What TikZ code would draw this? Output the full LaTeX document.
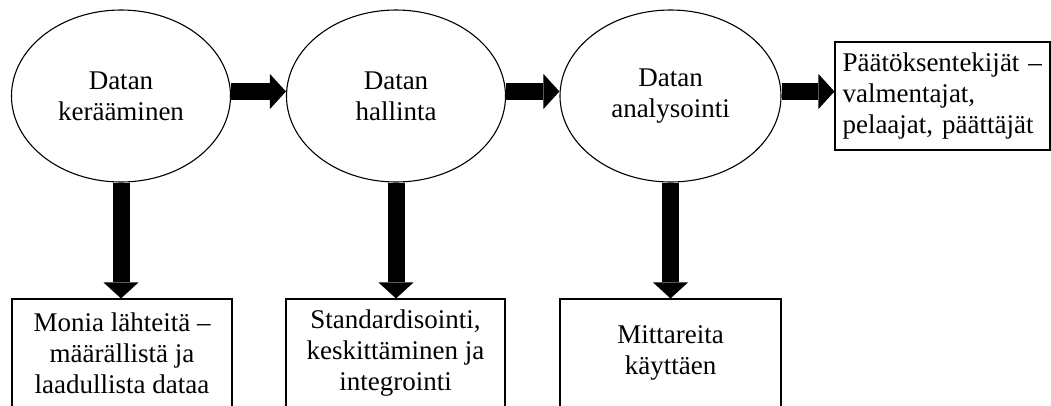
\documentclass[tikz,border=0pt]{standalone}
\usepackage{fontspec}
\setmainfont{Liberation Serif}
\usetikzlibrary{shapes.geometric,arrows.meta}
\begin{document}
\begin{tikzpicture}[x=1pt,y=-1pt,
  txt/.style={font=\fontsize{27}{31}\selectfont, align=center},
  stage/.style={ellipse, draw, line width=1.1pt, minimum width=219pt,
    minimum height=172pt, inner sep=0pt, txt},
  result/.style={rectangle, draw, line width=1.1pt, minimum width=220pt,
    minimum height=108pt, inner sep=0pt, txt},
  flow/.style={line width=17pt,
    -{Triangle[length=16pt,width=35pt,line width=0pt]}}
]
\useasboundingbox (0,0) rectangle (1051,405);

% process stages
\node[stage] (e1) at (121,96) {Datan\\kerääminen};
\node[stage] (e2) at (396,96) {Datan\\hallinta};
\node[stage, minimum width=221pt] (e3) at (670.5,96) {Datan\\analysointi};

% outcome of the chain
\node[result, minimum width=215pt, text width=200pt, align=left]
  (out) at (942.5,96) {Päätöksentekijät –\\valmentajat,\\pelaajat, päättäjät};

% what each stage involves
\node[result] (b1) at (122,353) {Monia lähteitä –\\määrällistä ja\\laadullista dataa};
\node[result, minimum width=219pt] (b2) at (395.5,353) {Standardisointi,\\keskittäminen ja\\integrointi};
\node[result, minimum width=221pt] (b3) at (670.5,353) {Mittareita\\käyttäen};

% horizontal flow
\draw[flow] ([yshift=4.5pt]e1.east) -- ([yshift=4.5pt]e2.west);
\draw[flow] ([yshift=4.5pt]e2.east) -- ([yshift=4.5pt]e3.west);
\draw[flow] ([yshift=4.5pt]e3.east) -- ([yshift=4.5pt]out.west);

% downward flow
\draw[flow] (e1.south) -- (e1.south |- b1.north);
\draw[flow] (e2.south) -- (e2.south |- b2.north);
\draw[flow] (e3.south) -- (e3.south |- b3.north);
\end{tikzpicture}
\end{document}
